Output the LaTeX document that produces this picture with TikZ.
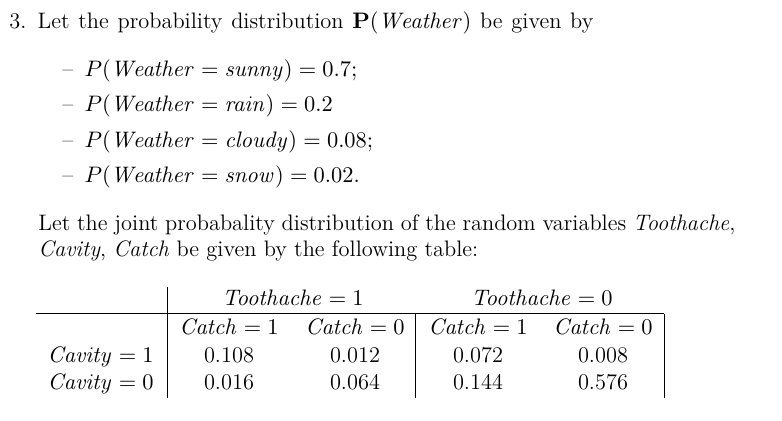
\documentclass[tikz,border=0pt]{standalone}
\usepackage{fix-cm}
\usepackage{amsmath}
\tikzset{
  txt/.style={inner sep=0pt, anchor=base west},
  cell/.style={inner sep=0pt, anchor=base},
  lbl/.style={inner sep=0pt, anchor=base east},
  rule/.style={line width=0.5pt}
}
\begin{document}
\begin{tikzpicture}[x=0.5pt, y=-0.5pt, font=\fontsize{11.2}{13.4}\selectfont]
  \useasboundingbox (0,0) rectangle (782,421);
  % opening sentence and the weather list
  \node[txt] (head) at (9,29) {\hbox to 292pt{3.\enspace Let the probability distribution $\mathbf{P}(\mathit{Weather})$ be given by}};
  \node[txt] (w1) at (62,77) {--\enspace $P(\mathit{Weather}=\mathit{sunny})=0.7;$};
  \node[txt] (w2) at (62,112) {--\enspace $P(\mathit{Weather}=\mathit{rain})=0.2$};
  \node[txt] (w3) at (62,148) {--\enspace $P(\mathit{Weather}=\mathit{cloudy})=0.08;$};
  \node[txt] (w4) at (62,183) {--\enspace $P(\mathit{Weather}=\mathit{snow})=0.02.$};
  \node[txt] (j1) at (38,231) {\hbox to 348.5pt{Let the joint probabality distribution of the random variables \textit{Toothache},}};
  \node[txt] (j2) at (38,257) {\textit{Cavity}, \textit{Catch} be given by the following table:};
  % table cells
  \node[cell] (t1) at (293,306) {$\mathit{Toothache}=1$};
  \node[cell] (t0) at (542,306) {$\mathit{Toothache}=0$};
  \node[cell] (c11) at (229,335) {$\mathit{Catch}=1$};
  \node[cell] (c10) at (355,335) {$\mathit{Catch}=0$};
  \node[cell] (c01) at (478,335) {$\mathit{Catch}=1$};
  \node[cell] (c00) at (603,335) {$\mathit{Catch}=0$};
  \node[lbl] (v1) at (154,363) {$\mathit{Cavity}=1$};
  \node[lbl] (v0) at (154,390) {$\mathit{Cavity}=0$};
  \node[cell] (a) at (229,363) {0.108};
  \node[cell] (b) at (355,363) {0.012};
  \node[cell] (c) at (478,363) {0.072};
  \node[cell] (d) at (603,363) {0.008};
  \node[cell] (e) at (229,390) {0.016};
  \node[cell] (f) at (355,390) {0.064};
  \node[cell] (g) at (478,390) {0.144};
  \node[cell] (h) at (603,390) {0.576};
  % rules
  \coordinate (top) at (167,287);
  \coordinate (bot) at (167,398);
  \coordinate (hl) at (36,314);
  \coordinate (hr) at (664,314);
  \draw[rule] (top) -- (bot);
  \draw[rule] (hl) -- (hr);
  \draw[rule] (415,314) -- (415,398);
  \draw[rule] (hr) -- (664,398);
\end{tikzpicture}
\end{document}
